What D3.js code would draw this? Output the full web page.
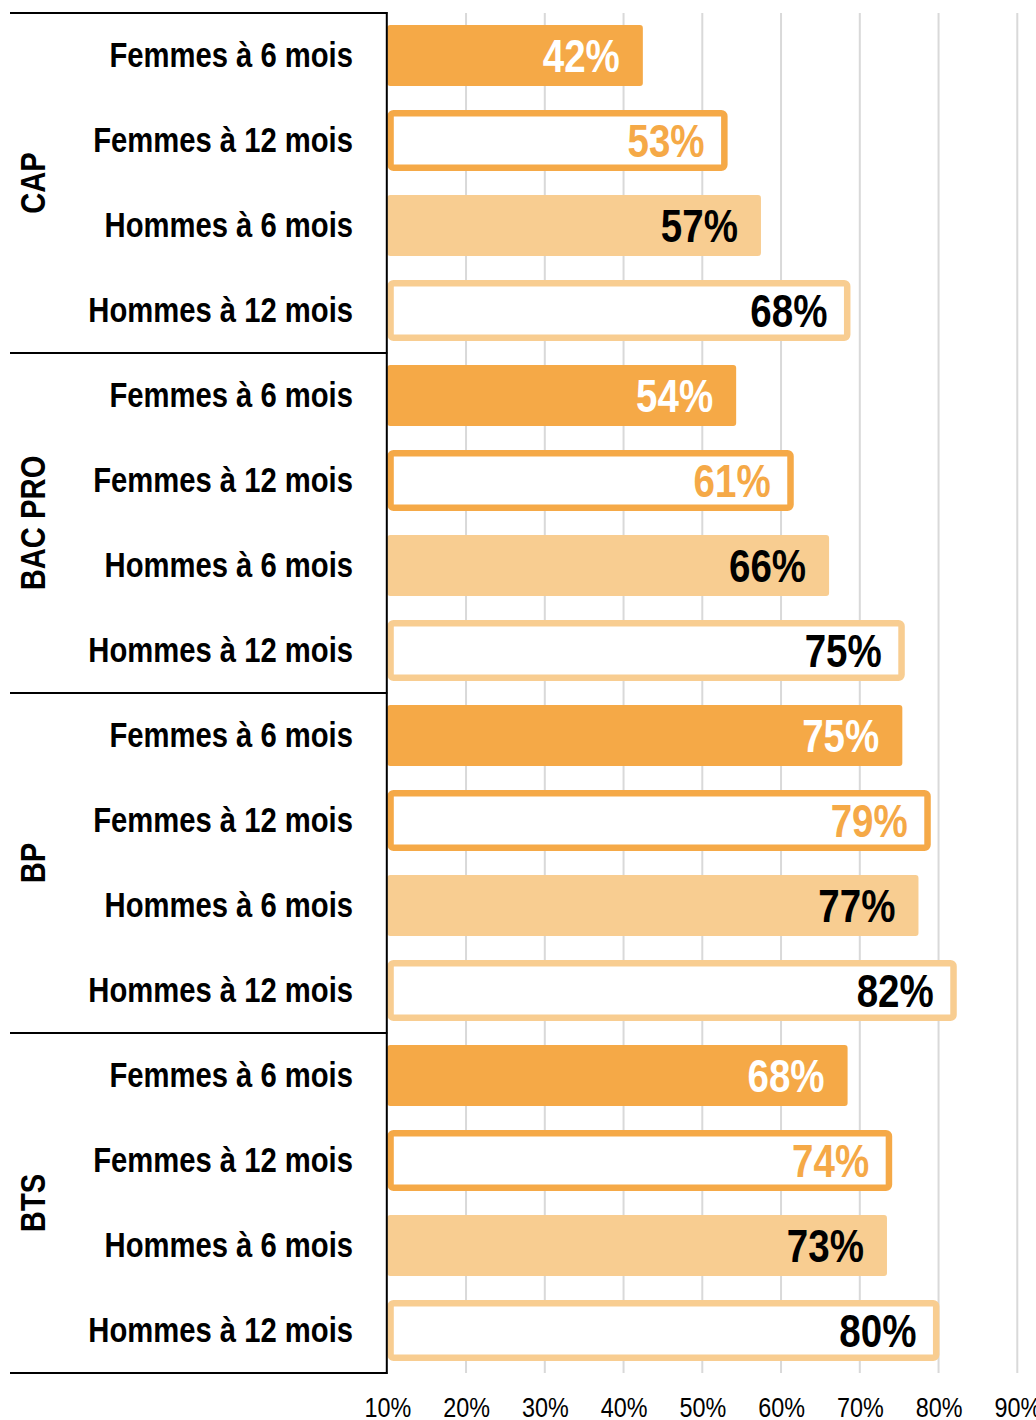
<!DOCTYPE html>
<html>
<head>
<meta charset="utf-8">
<script src="https://cdn.jsdelivr.net/npm/d3@7"></script>
<style>
  body { margin: 0; background: #fff; }
  svg text { font-family: "Liberation Sans", Arial, sans-serif; }
</style>
</head>
<body>
<svg id="chart" width="1036" height="1420"></svg>
<script>
// Données du graphique.
var groups = ["CAP", "BAC PRO", "BP", "BTS"];
var series = ["Femmes à 6 mois", "Femmes à 12 mois", "Hommes à 6 mois", "Hommes à 12 mois"];
var capValues = [42.45, 52.8, 57.45, 68.4];
var bacProValues = [54.3, 61.2, 66.1, 75.3];
var bpValues = [75.4, 78.6, 77.45, 81.9];
var btsValues = [68.45, 73.7, 73.45, 79.7];
var tickValues = [10, 20, 30, 40, 50, 60, 70, 80, 90];

var allValues = [capValues, bacProValues, bpValues, btsValues];

// Styles par série
var darkOrange = "#F5A947";
var lightOrange = "#F8CD91";
var seriesStyle = [
  {fill: darkOrange, stroke: null, text: "#ffffff"},
  {fill: "#ffffff", stroke: darkOrange, text: darkOrange},
  {fill: lightOrange, stroke: null, text: "#000000"},
  {fill: "#ffffff", stroke: lightOrange, text: "#000000"}
];
var narrow = 0.82; // pas d'Arial Narrow : on compresse Liberation Sans
var narrowLabel = 0.835;

var rows = [];
groups.forEach(function(g, gi) {
  series.forEach(function(s, si) {
    rows.push({group: g, serie: s, si: si, value: allValues[gi][si], key: g + "|" + s});
  });
});

var svg = d3.select("#chart");
var mLeft = 387.3, mRight = 1017.3, mTop = 13, mBottom = 1373;

var x = d3.scaleLinear().domain([10, 90]).range([mLeft, mRight]);
var y = d3.scaleBand()
  .domain(rows.map(function(d) { return d.key; }))
  .range([mTop, mBottom])
  .paddingInner(0.28)
  .paddingOuter(0.14);
var rowStep = y.step();

// Grille verticale
svg.append("g").selectAll("line")
  .data(tickValues.slice(1))
  .enter().append("line")
  .attr("x1", function(d) { return x(d); })
  .attr("x2", function(d) { return x(d); })
  .attr("y1", mTop)
  .attr("y2", mBottom)
  .attr("stroke", "#d9d9d9")
  .attr("stroke-width", 2);

// Barres (contour centré sur la valeur pour les barres « à 12 mois »)
var sw = 6.5;
function isOutline(d) { return !!seriesStyle[d.si].stroke; }
function barEnd(d) { return isOutline(d) ? x(d.value) + sw / 2 : x(d.value); }

svg.append("g").selectAll("rect")
  .data(rows)
  .enter().append("rect")
  .attr("x", function(d) { return isOutline(d) ? x(10) + sw / 2 : x(10); })
  .attr("y", function(d) { return isOutline(d) ? y(d.key) + sw / 2 : y(d.key); })
  .attr("width", function(d) { return isOutline(d) ? x(d.value) - x(10) - sw / 2 : x(d.value) - x(10); })
  .attr("height", function(d) { return isOutline(d) ? y.bandwidth() - sw : y.bandwidth(); })
  .attr("rx", 3)
  .attr("fill", function(d) { return seriesStyle[d.si].fill; })
  .attr("stroke", function(d) { return seriesStyle[d.si].stroke || "none"; })
  .attr("stroke-width", sw);

// Étiquettes de valeur
svg.append("g").selectAll("text")
  .data(rows)
  .enter().append("text")
  .attr("transform", function(d) {
    return "translate(" + (barEnd(d) - 23) + "," + (y(d.key) + y.bandwidth() / 2) + ") scale(" + narrow + ",1)";
  })
  .attr("dy", "0.36em")
  .attr("text-anchor", "end")
  .attr("font-size", 47)
  .attr("font-weight", "bold")
  .attr("fill", function(d) { return seriesStyle[d.si].text; })
  .text(function(d) { return Math.round(d.value) + "%"; });

// Libellés des catégories
svg.append("g").selectAll("text")
  .data(rows)
  .enter().append("text")
  .attr("transform", function(d) {
    return "translate(353," + (y(d.key) + y.bandwidth() / 2 - 1) + ") scale(" + narrowLabel + ",1)";
  })
  .attr("dy", "0.35em")
  .attr("text-anchor", "end")
  .attr("font-size", 35)
  .attr("font-weight", "bold")
  .attr("fill", "#000")
  .text(function(d) { return d.serie; });

// Libellés des groupes (verticaux)
svg.append("g").selectAll("text")
  .data(groups)
  .enter().append("text")
  .attr("transform", function(g, gi) {
    var cy = mTop + rowStep * series.length * (gi + 0.5);
    return "translate(33," + cy + ") rotate(-90) scale(" + narrowLabel + ",1)";
  })
  .attr("dy", "0.35em")
  .attr("text-anchor", "middle")
  .attr("font-size", 35)
  .attr("font-weight", "bold")
  .text(function(g) { return g; });

// Séparateurs de groupes
var sepY = d3.range(groups.length + 1).map(function(i) { return mTop + rowStep * series.length * i; });
svg.append("g").selectAll("line")
  .data(sepY)
  .enter().append("line")
  .attr("x1", 10)
  .attr("x2", mLeft)
  .attr("y1", function(d) { return d; })
  .attr("y2", function(d) { return d; })
  .attr("stroke", "#000")
  .attr("stroke-width", 2);

// Axe vertical
svg.append("line")
  .attr("x1", mLeft - 0.5).attr("x2", mLeft - 0.5)
  .attr("y1", mTop - 1).attr("y2", mBottom + 1)
  .attr("stroke", "#000")
  .attr("stroke-width", 2);

// Axe horizontal (libellés uniquement)
var xAxis = d3.axisBottom(x)
  .tickValues(tickValues)
  .tickSize(0)
  .tickFormat(function(d) { return d + "%"; });
var gx = svg.append("g")
  .attr("transform", "translate(0," + mBottom + ")")
  .call(xAxis);
gx.select(".domain").remove();
gx.attr("font-family", null).attr("font-size", null);
gx.selectAll("text")
  .attr("y", 0)
  .attr("dy", 0)
  .attr("transform", "translate(0,44) scale(" + narrowLabel + ",1)")
  .attr("font-size", 28)
  .attr("fill", "#000");
</script>
</body>
</html>
